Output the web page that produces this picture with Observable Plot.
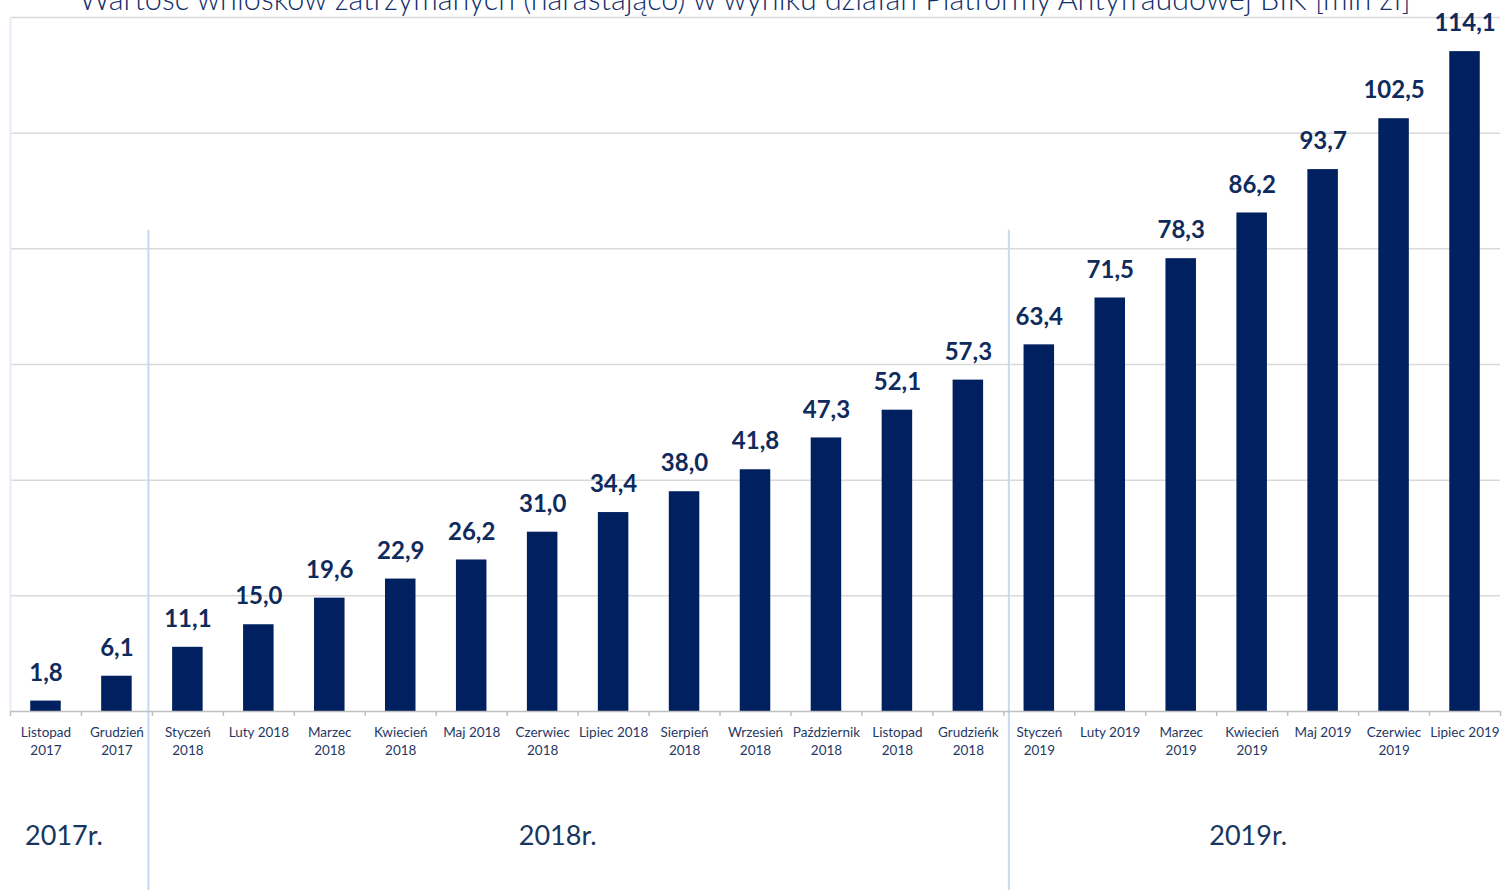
<!DOCTYPE html>
<html>
<head>
<meta charset="utf-8">
<script src="https://cdn.jsdelivr.net/npm/d3@7"></script>
<script src="https://cdn.jsdelivr.net/npm/@observablehq/plot@0.6"></script>
<style>
  html, body { margin: 0; padding: 0; background: #fff; overflow: hidden; }
  #wrap { position: relative; width: 1506px; height: 890px; }
  #title { position: absolute; top: -17px; left: 0; width: 1490px; text-align: center; line-height: 30px;
           font-family: Lato, sans-serif; font-weight: 300; font-size: 30.5px; color: #12306a; white-space: nowrap; z-index: 2; }
  #chart { position: absolute; top: 0; left: 0; }
</style>
</head>
<body>
<div id="wrap">
  <div id="title">Wartość wniosków zatrzymanych (narastająco) w wyniku działań Platformy Antyfraudowej BIK [mln zł]</div>
  <div id="chart"></div>
</div>
<script>
const categories = [
  "Listopad\n2017", "Grudzień\n2017", "Styczeń\n2018", "Luty 2018", "Marzec\n2018", "Kwiecień\n2018",
  "Maj 2018", "Czerwiec\n2018", "Lipiec 2018", "Sierpień\n2018", "Wrzesień\n2018", "Październik\n2018",
  "Listopad\n2018", "Grudzieńk\n2018", "Styczeń\n2019", "Luty 2019", "Marzec\n2019", "Kwiecień\n2019",
  "Maj 2019", "Czerwiec\n2019", "Lipiec 2019"
];
const values = [1.8, 6.1, 11.1, 15.0, 19.6, 22.9, 26.2, 31.0, 34.4, 38.0, 41.8, 47.3, 52.1, 57.3,
                63.4, 71.5, 78.3, 86.2, 93.7, 102.5, 114.1];
const gridValues = [20, 40, 60, 80, 100, 120];
const years = ["2017r.", "2018r.", "2019r."];
const yearAnchor = ["Listopad\n2017", "Czerwiec\n2018", "Kwiecień\n2019"];
const yearShift = [18, 15, -4];
const separators = ["Styczeń\n2018", "Styczeń\n2019"];
const sepShift = [-4, 5];

const data = categories.map((c, i) => ({category: c, value: values[i]}));

const W = 1506, H = 890, mL = 10, mR = 6, mT = 17, mB = 179;
const padIn = 0.57, padOut = padIn / 2;
const step = (W - mL - mR) / categories.length;
const fmt = v => v.toFixed(1).replace(".", ",");
const font = "Lato, sans-serif";

const chart = Plot.plot({
  width: W, height: H,
  marginLeft: mL, marginRight: mR, marginTop: mT, marginBottom: mB,
  style: {fontFamily: font, background: "transparent", overflow: "visible"},
  x: {domain: categories, paddingInner: padIn, paddingOuter: padOut, round: false, axis: null},
  y: {domain: [0, 120], axis: null},
  marks: [
    Plot.ruleY(gridValues, {stroke: "#d9d9d9", strokeWidth: 1.5}),
    Plot.ruleX([categories[0]], {x: d => d, dx: -step / 2, y1: 0, y2: 120, stroke: "#e6edf8", strokeWidth: 2}),
    ...separators.map((s, i) => Plot.ruleX([s], {x: d => d, dx: -step / 2 + sepShift[i], y1: -31, y2: 83.2,
      stroke: "#c6d9f1", strokeWidth: 2})),
    Plot.barY(data, {x: "category", y: "value", fill: "#002060"}),
    Plot.ruleY([0], {stroke: "#bfbfbf", strokeWidth: 1.5}),
    Plot.axisX({tickSize: 5, tickFormat: () => "", label: null, dx: -step / 2, stroke: "#bfbfbf", strokeWidth: 1.5}),
    Plot.axisX({ticks: [categories[categories.length - 1]], tickSize: 5, tickFormat: () => "", label: null,
      dx: step / 2, stroke: "#bfbfbf", strokeWidth: 1.5}),
    Plot.text(categories, {x: d => d, text: d => d, frameAnchor: "bottom", lineAnchor: "top", dy: 13,
      lineHeight: 1.33, fontSize: 13.5, fill: "#1f3864"}),
    Plot.text(data, {x: "category", y: "value", text: d => fmt(d.value), dy: -28, lineAnchor: "middle",
      fontSize: 24, fontWeight: "bold", fill: "#0f2a5c"}),
    ...years.map((yr, i) => Plot.text([yr], {x: () => yearAnchor[i], text: d => d, frameAnchor: "bottom",
      dy: 133, dx: yearShift[i], fontSize: 27, fill: "#17365d"}))
  ]
});
document.getElementById("chart").appendChild(chart);
</script>
</body>
</html>
